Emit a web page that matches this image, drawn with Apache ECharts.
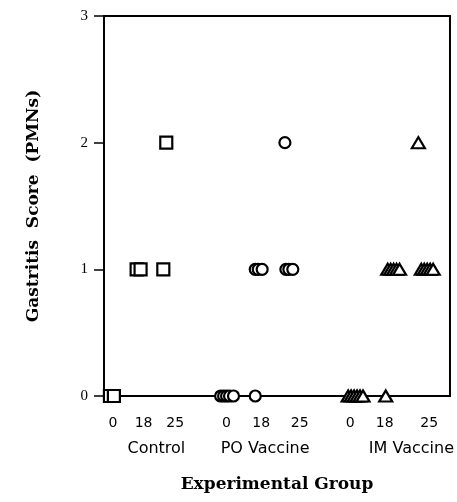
<!DOCTYPE html>
<html>
<head>
<meta charset="utf-8">
<script src="https://cdn.jsdelivr.net/npm/echarts@6/dist/echarts.min.js"></script>
<style>html,body{margin:0;padding:0;background:#fff;}#chart{width:457px;height:502px;}</style>
</head>
<body>
<div id="chart"></div>
<script>
// Group names and label positions along the (position-unit) x axis
const groups = ['Control', 'PO Vaccine', 'IM Vaccine'];
const groupLabelPos = [53, 163, 311];
const weekLabels = ['0', '18', '25'];
const weekLabelPos = [9, 40, 72, 124, 159, 198, 249, 284, 329];
const yTicks = [0, 1, 2, 3];

// Individual animals: x position (jittered within week column) and gastritis score
const controlX     = [6, 10, 33, 37, 60, 63];
const controlScore = [0, 0, 1, 1, 1, 2];

const poX     = [118, 121, 124, 127, 131, 153, 153, 156, 160, 184, 187, 191, 183];
const poScore = [0, 0, 0, 0, 0, 0, 1, 1, 1, 1, 1, 1, 2];

const imX     = [247, 250, 253, 256, 259, 262, 285, 287, 290, 293, 296, 299, 321, 324, 327, 330, 333, 318];
const imScore = [0, 0, 0, 0, 0, 0, 0, 1, 1, 1, 1, 1, 1, 1, 1, 1, 1, 2];

const pair = (xs, ys) => xs.map((x, i) => [x, ys[i]]);
const weekLabelMap = {};
weekLabelPos.forEach((p, i) => { weekLabelMap[p] = weekLabels[i % 3]; });
const groupLabelMap = {};
groupLabelPos.forEach((p, i) => { groupLabelMap[p] = groups[i]; });

const chart = echarts.init(document.getElementById('chart'), null, {renderer: 'canvas'});
const markerStyle = {color: '#fff', borderColor: '#000', borderWidth: 2.2, opacity: 1};
chart.setOption({
  animation: false,
  backgroundColor: '#fff',
  grid: {left: 104, right: 3, top: 16, bottom: 106, show: true, borderColor: '#000', borderWidth: 2, backgroundColor: 'transparent'},
  xAxis: [{
    type: 'value', min: 0, max: 350, position: 'bottom',
    axisLine: {show: true, lineStyle: {color: '#000', width: 2}},
    axisTick: {show: false},
    splitLine: {show: false},
    axisLabel: {
      customValues: weekLabelPos, margin: 20, color: '#000',
      fontFamily: 'DejaVu Sans', fontSize: 14,
      formatter: v => weekLabelMap[v] || ''
    }
  }, {
    type: 'value', min: 0, max: 350, position: 'bottom',
    axisLine: {show: false}, axisTick: {show: false}, splitLine: {show: false},
    axisLabel: {
      customValues: groupLabelPos, margin: 45, color: '#000',
      fontFamily: 'DejaVu Sans', fontSize: 16,
      formatter: v => groupLabelMap[v] || ''
    },
    name: 'Experimental Group', nameLocation: 'middle', nameGap: 80,
    nameTextStyle: {fontFamily: 'DejaVu Serif', fontWeight: 'bold', fontSize: 17, color: '#000'}
  }],
  yAxis: {
    type: 'value', min: 0, max: 3, interval: 1,
    axisLine: {show: true, lineStyle: {color: '#000', width: 2}},
    axisTick: {show: true, length: 10, lineStyle: {color: '#000', width: 1.5}},
    splitLine: {show: false},
    axisLabel: {margin: 16, color: '#000', fontFamily: 'Liberation Serif', fontSize: 15,
      customValues: yTicks},
    name: 'Gastritis  Score  (PMNs)', nameLocation: 'middle', nameGap: 62,
    nameTextStyle: {fontFamily: 'DejaVu Serif', fontWeight: 'bold', fontSize: 17, color: '#000'}
  },
  series: [
    {name: 'Control', type: 'scatter', symbol: 'rect', symbolSize: 12, data: pair(controlX, controlScore), itemStyle: markerStyle, clip: false},
    {name: 'PO Vaccine', type: 'scatter', symbol: 'circle', symbolSize: 11, data: pair(poX, poScore), itemStyle: markerStyle, clip: false},
    {name: 'IM Vaccine', type: 'scatter', symbol: 'triangle', symbolSize: [13, 11], data: pair(imX, imScore), itemStyle: markerStyle, clip: false}
  ]
});
</script>
</body>
</html>
